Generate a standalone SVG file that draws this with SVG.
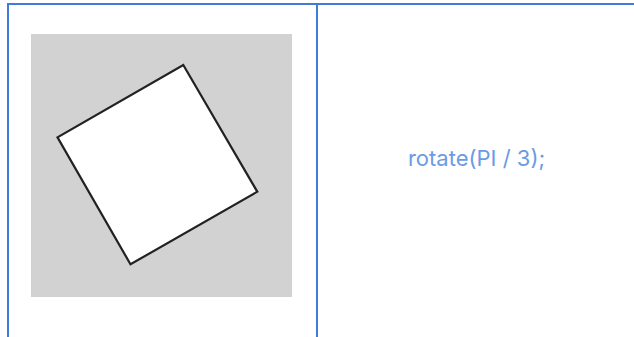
<svg xmlns="http://www.w3.org/2000/svg" width="634" height="337" viewBox="0 0 634 337">
<style>
.grid{stroke:#3f7bd9;stroke-width:2;fill:none}
.label{font-family:Inter,"Liberation Sans",sans-serif;font-size:22px;fill:#6a9be3}
</style>
<rect width="634" height="337" fill="#ffffff"/>
<g id="table">
<line class="grid" x1="7" y1="4" x2="634" y2="4"/>
<line class="grid" x1="8" y1="3" x2="8" y2="337"/>
<line class="grid" x1="317" y1="3" x2="317" y2="337"/>
</g>
<g id="canvas">
<rect x="31" y="34" width="261" height="263" fill="#d2d2d2"/>
<polygon points="183.3,65 257.3,191.7 130.5,264.3 57.5,137.3" fill="#ffffff" stroke="#222222" stroke-width="2.2" stroke-linejoin="miter"/>
</g>
<g id="code">
<text class="label" x="476.5" y="166" text-anchor="middle">rotate(PI / 3);</text>
</g>
</svg>
